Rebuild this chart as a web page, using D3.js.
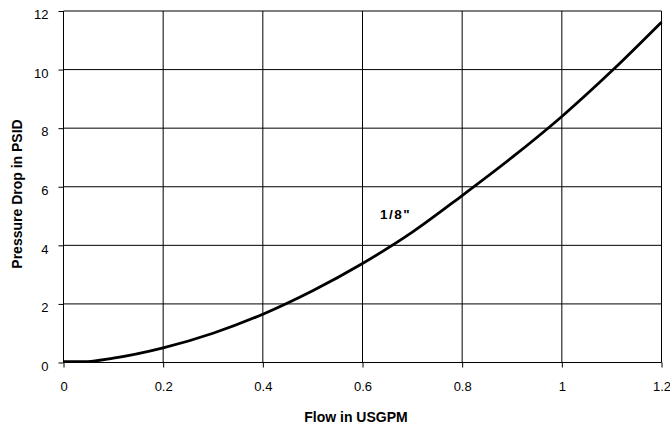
<!DOCTYPE html>
<html><head><meta charset="utf-8">
<script src="https://cdn.jsdelivr.net/npm/d3@7"></script>
<style>body{margin:0;background:#fff}svg{display:block}text{font-family:"Liberation Sans",Arial,Helvetica,sans-serif}</style>
</head><body><svg id="c" width="670" height="427"></svg>
<script>
const flow = [0, 0.04, 0.1, 0.2, 0.3, 0.4, 0.5, 0.6, 0.7, 0.8, 0.9, 1.0, 1.1, 1.2];
const pressure = [0.03, 0.03, 0.15, 0.5, 1.0, 1.65, 2.45, 3.38, 4.45, 5.7, 7.0, 8.4, 9.95, 11.62];
const xTicks = [0, 0.2, 0.4, 0.6, 0.8, 1, 1.2];
const yTicks = [0, 2, 4, 6, 8, 10, 12];
const seriesLabel = "1/8\"";
const labelPos = [0.635, 4.9];

const svg = d3.select("#c");
const L = 63.5, R = 661.5, T = 11, B = 362.5;
const x = d3.scaleLinear().domain([0, 1.2]).range([L, R]);
const y = d3.scaleLinear().domain([0, 12]).range([B, T]);

// gridlines
svg.append("g").selectAll("line").data(xTicks).join("line")
  .attr("x1", d => x(d)).attr("x2", d => x(d)).attr("y1", T).attr("y2", B)
  .attr("stroke", "#000").attr("stroke-width", 1);
svg.append("g").selectAll("line").data(yTicks).join("line")
  .attr("x1", L).attr("x2", R).attr("y1", d => y(d)).attr("y2", d => y(d))
  .attr("stroke", "#000").attr("stroke-width", 1);

const xAxis = svg.append("g").attr("transform", `translate(0,${B})`)
  .call(d3.axisBottom(x).tickValues(xTicks).tickSize(5).tickPadding(14).tickFormat(d3.format("")));
const yAxis = svg.append("g").attr("transform", `translate(${L},0)`)
  .call(d3.axisLeft(y).tickValues(yTicks).tickSize(5).tickPadding(10).tickFormat(d3.format("")));
[xAxis, yAxis].forEach(a => {
  a.select(".domain").remove();
  a.selectAll("text").attr("font-size", 13).attr("fill", "#000")
    .style("font-family", '"Liberation Sans",Arial,sans-serif');
  a.selectAll("line").attr("stroke", "#000");
});
yAxis.selectAll("text").attr("dy", "0.6em");
xAxis.selectAll("text").attr("dy", "0.71em");

// curve
svg.append("path")
  .datum(flow.map((f, i) => [f, pressure[i]]))
  .attr("fill", "none").attr("stroke", "#000").attr("stroke-width", 2.8)
  .attr("d", d3.line().x(d => x(d[0])).y(d => y(d[1])).curve(d3.curveMonotoneX));

svg.append("text").attr("x", x(labelPos[0])).attr("y", y(labelPos[1]))
  .attr("font-size", 13.5).attr("font-weight", "bold").attr("letter-spacing", 1.5).text(seriesLabel);

svg.append("text").attr("x", 356).attr("y", 422).attr("text-anchor", "middle")
  .attr("font-size", 14).attr("font-weight", "bold").text("Flow in USGPM");
svg.append("text").attr("transform", `translate(22,194) rotate(-90)`)
  .attr("text-anchor", "middle").attr("font-size", 14).attr("font-weight", "bold")
  .text("Pressure Drop in PSID");
</script></body></html>
